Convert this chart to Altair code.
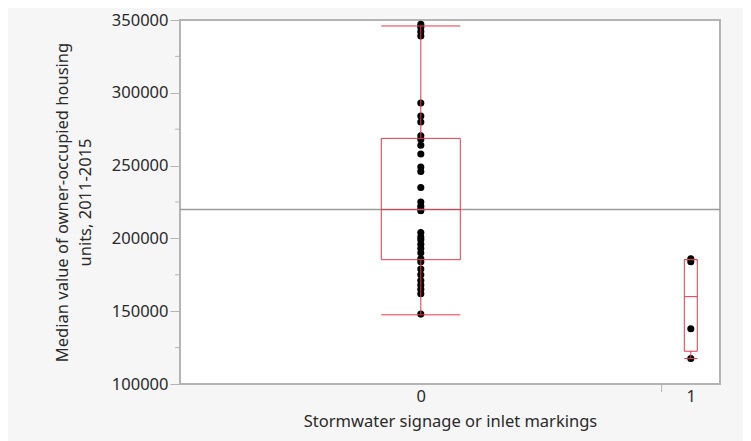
import altair as alt
import pandas as pd

# ---- data ----
groups = ["0", "1"]
values_0 = [148000, 162000, 165000, 168000, 171000, 175000, 179000, 184000, 186000, 190000,
            193000, 196000, 199000, 201000, 204000, 219000, 220000, 222000, 225000, 235000,
            246000, 249000, 258000, 264000, 268000, 270500, 280000, 284000, 293000, 339000,
            342000, 345000, 347000]
values_1 = [117500, 138000, 184000, 186000]
q1s = [185400, 122500]
medians = [219800, 160000]
q3s = [268700, 185400]
whisk_lo = [147500, 117500]
whisk_hi = [345900, 185400]
grand_mean = 219800
y_ticks = [100000, 150000, 200000, 250000, 300000, 350000]
y_minor = [125000, 175000, 225000, 275000, 325000]
x_title = "Stormwater signage or inlet markings"
y_title = ["Median value of owner-occupied housing", "units, 2011-2015"]

# ---- layout / style ----
W, H = 540, 364
FONT = "Noto Sans"
RED = "#e8394d"
GRAY = "#b4b4b4"
box_half_px = [39.5, 6.5]

counts = [len(values_0), len(values_1)]
N = sum(counts)
starts = [0, counts[0]]
centers = [s + c / 2 for s, c in zip(starts, counts)]
sep = counts[0]
half_units = [h / W * N for h in box_half_px]

pts = pd.DataFrame({
    "x": [centers[0]] * len(values_0) + [centers[1]] * len(values_1),
    "y": values_0 + values_1,
})
box = pd.DataFrame({
    "g": groups,
    "c": centers,
    "xl": [c - h for c, h in zip(centers, half_units)],
    "xr": [c + h for c, h in zip(centers, half_units)],
    "q1": q1s, "med": medians, "q3": q3s, "lo": whisk_lo, "hi": whisk_hi,
})

xs = alt.Scale(domain=[0, N], nice=False, zero=False)
ys = alt.Scale(domain=[100000, 350000], nice=False, zero=False)

x_axis = alt.Axis(values=centers,
                  labelExpr="datum.value < %f ? '0' : '1'" % sep,
                  ticks=False, domain=False, grid=False,
                  labelPadding=4, titlePadding=9)
y_axis = alt.Axis(values=y_ticks, format="d", tickSize=10, tickColor=GRAY,
                  domain=False, grid=False, labelPadding=2, titlePadding=18,
                  titleLineHeight=23)


def X(f):
    return alt.X(f, type="quantitative", scale=xs, title=x_title, axis=x_axis)


def Y(f):
    return alt.Y(f, type="quantitative", scale=ys, title=y_title, axis=y_axis)


points = alt.Chart(pts).mark_circle(color="black", opacity=1, size=50).encode(
    x=X("x"), y=Y("y"))

mean_rule = alt.Chart(pd.DataFrame({"m": [grand_mean]})).mark_rule(
    color="#9a9a9a", strokeWidth=1.5).encode(y=Y("m"))

rect = alt.Chart(box).mark_rect(fillOpacity=0, stroke=RED, strokeWidth=1).encode(
    x=X("xl"), x2="xr:Q", y=Y("q1"), y2="q3:Q")
med = alt.Chart(box).mark_rule(color=RED, strokeWidth=1).encode(
    x=X("xl"), x2="xr:Q", y=Y("med"))
wl = alt.Chart(box).mark_rule(color=RED, strokeWidth=1).encode(
    x=X("c"), y=Y("lo"), y2="q1:Q")
wh = alt.Chart(box).mark_rule(color=RED, strokeWidth=1).encode(
    x=X("c"), y=Y("q3"), y2="hi:Q")
cap_lo = alt.Chart(box).mark_rule(color=RED, strokeWidth=1).encode(
    x=X("xl"), x2="xr:Q", y=Y("lo"))
cap_hi = alt.Chart(box).mark_rule(color=RED, strokeWidth=1).encode(
    x=X("xl"), x2="xr:Q", y=Y("hi"))

minor = alt.Chart(pd.DataFrame({"v": y_minor})).mark_rule(color=GRAY, strokeWidth=1).encode(
    x=alt.value(-5), x2=alt.value(0), y=Y("v"))
sep_tick = alt.Chart(pd.DataFrame({"s": [sep]})).mark_rule(color=GRAY, strokeWidth=1).encode(
    x=X("s"), y=alt.value(H + 1), y2=alt.value(H + 8))

chart = alt.layer(points, mean_rule, rect, med, wl, wh, cap_lo, cap_hi, minor, sep_tick).properties(
    width=W, height=H,
    autosize=alt.AutoSizeParams(type="none"),
    padding={"left": 172, "top": 12, "right": 23, "bottom": 57},
    background="#f6f6f6",
).configure_view(
    fill="white", stroke=GRAY, strokeWidth=2
).configure_axis(
    labelFont=FONT, titleFont=FONT, labelFontSize=16.5, titleFontSize=16.5,
    labelColor="#2a2a2a", titleColor="#2a2a2a", titleFontWeight="normal",
)

chart.save("out.html", embed_options={"renderer": "svg", "actions": False})
